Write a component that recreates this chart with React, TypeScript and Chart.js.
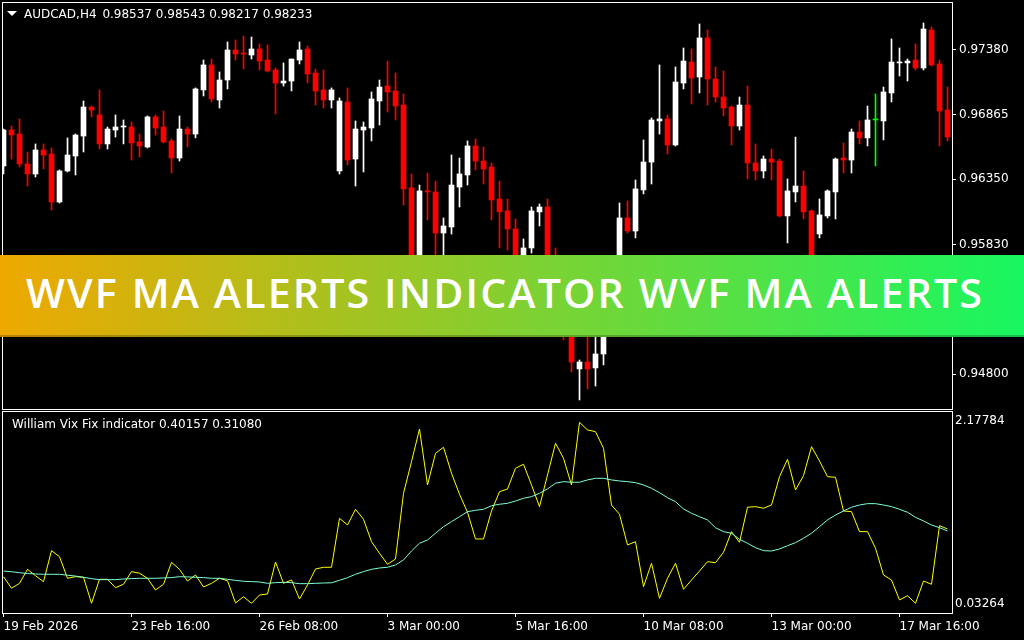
import React, { useEffect, useRef, useMemo } from 'react';
import { Chart, registerables } from 'chart.js';
Chart.register(...registerables);

// ---------- DATA (AUDCAD H4) ----------
const opens = [
  0.96457, 0.96743, 0.96711, 0.96473, 0.96393, 0.96584, 0.96552, 0.96170, 0.96417, 0.96536,
  0.96695, 0.96926, 0.96863, 0.96632, 0.96743, 0.96767, 0.96767, 0.96648, 0.96608, 0.96847,
  0.96767, 0.96656, 0.96520, 0.96751, 0.96711, 0.97062, 0.97261, 0.96982, 0.97141, 0.97380,
  0.97356, 0.97340, 0.97388, 0.97300, 0.97221, 0.97117, 0.97133, 0.97300, 0.97388, 0.97197,
  0.97062, 0.96982, 0.96417, 0.96966, 0.96512, 0.96743, 0.96759, 0.96974, 0.97093, 0.97054,
  0.96942, 0.96282, 0.95589, 0.96258, 0.96250, 0.95923, 0.95971, 0.96289, 0.96385, 0.96616,
  0.96496, 0.96449, 0.96194, 0.96099, 0.95955, 0.95581, 0.95804, 0.96091, 0.96130, 0.95692,
  0.95390, 0.95151, 0.94841, 0.94896, 0.94849, 0.94960, 0.95390, 0.95669, 0.96043, 0.95939,
  0.96266, 0.96488, 0.96815, 0.96831, 0.96624, 0.97117, 0.97284, 0.97165, 0.97476, 0.97149,
  0.97006, 0.96926, 0.96775, 0.96942, 0.96481, 0.96417, 0.96512, 0.96496, 0.96059, 0.96250,
  0.96297, 0.96099, 0.95915, 0.96059, 0.96250, 0.96520, 0.96504, 0.96727, 0.96680, 0.96823,
  0.96815, 0.97038, 0.97277, 0.97277, 0.97300, 0.97237, 0.97539, 0.97269, 0.96902,
];
const highs = [
  0.96751, 0.96775, 0.96831, 0.96568, 0.96632, 0.96632, 0.96600, 0.96425, 0.96680, 0.96711,
  0.96974, 0.96934, 0.97062, 0.96767, 0.96863, 0.96823, 0.96807, 0.96711, 0.96855, 0.96863,
  0.96894, 0.96672, 0.96855, 0.96767, 0.97078, 0.97300, 0.97308, 0.97205, 0.97444, 0.97460,
  0.97491, 0.97483, 0.97428, 0.97420, 0.97237, 0.97277, 0.97308, 0.97444, 0.97412, 0.97229,
  0.97221, 0.97078, 0.96998, 0.97078, 0.96815, 0.96807, 0.97046, 0.97141, 0.97292, 0.97197,
  0.97030, 0.96393, 0.96305, 0.96401, 0.96337, 0.96043, 0.96544, 0.96520, 0.96656, 0.96672,
  0.96608, 0.96481, 0.96337, 0.96194, 0.96035, 0.95876, 0.96130, 0.96154, 0.96194, 0.95804,
  0.95470, 0.95191, 0.94912, 0.95111, 0.95111, 0.95430, 0.95724, 0.96162, 0.96178, 0.96345,
  0.96664, 0.96839, 0.97261, 0.96863, 0.97245, 0.97396, 0.97388, 0.97587, 0.97539, 0.97245,
  0.97213, 0.96934, 0.97006, 0.97093, 0.96632, 0.96536, 0.96592, 0.96512, 0.96353, 0.96687,
  0.96417, 0.96106, 0.96194, 0.96266, 0.96520, 0.96640, 0.96751, 0.96815, 0.96934, 0.97030,
  0.97085, 0.97468, 0.97396, 0.97308, 0.97428, 0.97595, 0.97563, 0.97300, 0.97085,
];
const lows = [
  0.96393, 0.96512, 0.96449, 0.96297, 0.96369, 0.96433, 0.96106, 0.96162, 0.96409, 0.96385,
  0.96568, 0.96847, 0.96592, 0.96592, 0.96687, 0.96632, 0.96504, 0.96528, 0.96600, 0.96703,
  0.96640, 0.96401, 0.96496, 0.96608, 0.96680, 0.97014, 0.96966, 0.96918, 0.97070, 0.97300,
  0.97229, 0.97308, 0.97221, 0.97205, 0.96871, 0.97093, 0.97054, 0.97269, 0.97117, 0.96942,
  0.96918, 0.96918, 0.96393, 0.96465, 0.96297, 0.96409, 0.96656, 0.96783, 0.96886, 0.96823,
  0.96146, 0.95470, 0.95509, 0.96027, 0.95692, 0.95692, 0.95915, 0.96130, 0.96305, 0.96425,
  0.96313, 0.96027, 0.95804, 0.95788, 0.95509, 0.95509, 0.95764, 0.95979, 0.95645, 0.95310,
  0.95072, 0.94817, 0.94594, 0.94682, 0.94705, 0.94873, 0.95350, 0.95629, 0.95923, 0.95884,
  0.96234, 0.96313, 0.96711, 0.96552, 0.96616, 0.97070, 0.96950, 0.97038, 0.96942, 0.96966,
  0.96855, 0.96624, 0.96743, 0.96353, 0.96345, 0.96361, 0.96345, 0.96051, 0.95844, 0.96170,
  0.96035, 0.95613, 0.95884, 0.96043, 0.96035, 0.96401, 0.96401, 0.96632, 0.96616, 0.96457,
  0.96664, 0.96966, 0.97173, 0.97133, 0.97221, 0.97221, 0.97253, 0.96616, 0.96656,
];
const closes = [
  0.96743, 0.96703, 0.96473, 0.96393, 0.96584, 0.96544, 0.96170, 0.96417, 0.96544, 0.96703,
  0.96926, 0.96902, 0.96632, 0.96751, 0.96767, 0.96775, 0.96640, 0.96616, 0.96847, 0.96759,
  0.96648, 0.96520, 0.96751, 0.96711, 0.97070, 0.97261, 0.96990, 0.97141, 0.97380, 0.97348,
  0.97348, 0.97388, 0.97292, 0.97213, 0.97117, 0.97133, 0.97308, 0.97380, 0.97189, 0.97054,
  0.96982, 0.97062, 0.96974, 0.96504, 0.96751, 0.96767, 0.96990, 0.97085, 0.97046, 0.96934,
  0.96274, 0.95589, 0.96258, 0.96250, 0.95923, 0.95979, 0.96305, 0.96393, 0.96616, 0.96496,
  0.96433, 0.96186, 0.96091, 0.95955, 0.95565, 0.95804, 0.96099, 0.96130, 0.95692, 0.95390,
  0.95151, 0.94896, 0.94896, 0.94841, 0.94960, 0.95390, 0.95669, 0.96043, 0.95939, 0.96274,
  0.96488, 0.96823, 0.96831, 0.96624, 0.97125, 0.97292, 0.97157, 0.97476, 0.97149, 0.97006,
  0.96918, 0.96775, 0.96942, 0.96481, 0.96417, 0.96512, 0.96488, 0.96059, 0.96258, 0.96297,
  0.96091, 0.95669, 0.96067, 0.96258, 0.96512, 0.96504, 0.96727, 0.96680, 0.96823, 0.96823,
  0.97046, 0.97284, 0.97284, 0.97292, 0.97237, 0.97547, 0.97261, 0.96894, 0.96687,
];
// William Vix Fix and its moving average
const wvf = [
  0.353, 0.217, 0.275, 0.439, 0.364, 0.294, 0.658, 0.587, 0.334, 0.353,
  0.346, 0.041, 0.322, 0.322, 0.224, 0.264, 0.412, 0.393, 0.334, 0.197,
  0.264, 0.521, 0.439, 0.302, 0.373, 0.232, 0.275, 0.334, 0.306, 0.045,
  0.118, 0.041, 0.138, 0.150, 0.525, 0.275, 0.314, 0.091, 0.256, 0.443,
  0.463, 0.463, 1.037, 0.959, 1.143, 1.026, 0.763, 0.627, 0.498, 0.560,
  1.330, 1.701, 2.084, 1.428, 1.799, 1.870, 1.565, 1.319, 1.108, 0.795,
  0.795, 1.123, 1.349, 1.381, 1.624, 1.671, 1.428, 1.174, 1.545, 1.917,
  1.741, 1.428, 2.163, 2.073, 2.053, 1.858, 1.193, 1.084, 0.725, 0.763,
  0.236, 0.510, 0.100, 0.334, 0.510, 0.205, 0.314, 0.419, 0.529, 0.517,
  0.639, 0.881, 0.756, 1.167, 1.174, 1.155, 1.193, 1.525, 1.729, 1.369,
  1.537, 1.877, 1.709, 1.525, 1.518, 1.123, 1.115, 0.881, 0.881, 0.686,
  0.373, 0.314, 0.080, 0.130, 0.041, 0.302, 0.264, 0.951, 0.912,
];
const wvfMa = [
  0.419, 0.411, 0.400, 0.390, 0.385, 0.381, 0.381, 0.381, 0.370, 0.360,
  0.346, 0.330, 0.318, 0.318, 0.318, 0.326, 0.330, 0.334, 0.334, 0.334,
  0.338, 0.342, 0.353, 0.350, 0.346, 0.342, 0.334, 0.334, 0.322, 0.310,
  0.299, 0.295, 0.291, 0.275, 0.283, 0.287, 0.283, 0.271, 0.271, 0.275,
  0.279, 0.281, 0.311, 0.341, 0.381, 0.412, 0.439, 0.455, 0.463, 0.490,
  0.549, 0.654, 0.745, 0.783, 0.862, 0.939, 0.998, 1.056, 1.115, 1.131,
  1.143, 1.185, 1.202, 1.213, 1.240, 1.272, 1.291, 1.330, 1.381, 1.448,
  1.467, 1.460, 1.460, 1.487, 1.506, 1.506, 1.487, 1.475, 1.467, 1.455,
  1.428, 1.389, 1.338, 1.279, 1.232, 1.147, 1.096, 1.056, 1.018, 0.927,
  0.881, 0.862, 0.791, 0.745, 0.693, 0.658, 0.654, 0.678, 0.716, 0.752,
  0.803, 0.862, 0.939, 1.018, 1.076, 1.123, 1.167, 1.193, 1.209, 1.209,
  1.193, 1.174, 1.143, 1.108, 1.049, 1.006, 0.959, 0.927, 0.889,
];
const timeTickIndex = [0, 16, 32, 48, 64, 80, 96, 112];
const timeLabels = ['19 Feb 2026', '23 Feb 16:00', '26 Feb 08:00', '3 Mar 00:00', '5 Mar 16:00', '10 Mar 08:00', '13 Mar 00:00', '17 Mar 16:00'];
const priceTicks = [0.948, 0.95315, 0.9583, 0.9635, 0.96865, 0.9738];
const indicatorTicks = [0.03264, 2.17784];
const headerText = '0.98537 0.98543 0.98217 0.98233';
const symbolText = 'AUDCAD,H4';
const indicatorTitle = 'William Vix Fix indicator 0.40157 0.31080';
const bannerText = 'WVF MA ALERTS INDICATOR WVF MA ALERTS';

// ---------- view settings ----------
const X_MIN = -0.1875;
const X_MAX = 118.5625;
const P_MIN = 0.94522;
const P_MAX = 0.97762;
const I_MIN = -0.07286;
const I_MAX = 2.29506;
const FONT = 'DejaVu Sans';

const framePlugin = {
  id: 'frame',
  afterDraw(chart: any) {
    const { ctx, chartArea: a } = chart;
    ctx.save();
    ctx.strokeStyle = '#ffffff';
    ctx.lineWidth = 1;
    ctx.strokeRect(Math.round(a.left) + 0.5, Math.round(a.top) + 0.5, Math.round(a.right - a.left), Math.round(a.bottom - a.top));
    ctx.restore();
  },
};

const noPad = (s: any) => {
  s.paddingTop = 0;
  s.paddingBottom = 0;
  s.paddingLeft = 0;
  s.paddingRight = 0;
};

export default function App() {
  const mainRef = useRef<HTMLCanvasElement>(null);
  const indRef = useRef<HTMLCanvasElement>(null);

  const bannerScale = useMemo(() => {
    const c = document.createElement('canvas').getContext('2d')!;
    c.font = '600 39px "Open Sans"';
    const w = c.measureText(bannerText).width + 2 * (bannerText.length - 1);
    return 956 / w;
  }, []);

  useEffect(() => {
    Chart.defaults.font.family = FONT;
    const idx = opens.map((_, i) => i);
    const colors = idx.map((i) => (closes[i] > opens[i] ? '#ffffff' : closes[i] < opens[i] ? '#ff0000' : '#00ff00'));

    const main = new Chart(mainRef.current!, {
      type: 'bar',
      data: {
        datasets: [
          {
            data: idx.map((i) => ({ x: i, y: [opens[i], closes[i]] })) as any,
            backgroundColor: colors,
            barThickness: 5,
            grouped: false,
            minBarLength: 1,
            borderWidth: 0,
            order: 0,
          } as any,
          {
            data: idx.map((i) => ({ x: i, y: [lows[i], highs[i]] })) as any,
            backgroundColor: colors,
            barThickness: 1,
            grouped: false,
            borderWidth: 0,
            order: 1,
          } as any,
        ],
      },
      options: {
        responsive: false,
        animation: false,
        devicePixelRatio: 1,
        layout: { padding: { left: 2, top: 2, bottom: 1, right: 0 } },
        plugins: { legend: { display: false }, tooltip: { enabled: false } },
        scales: {
          x: { type: 'linear', display: false, min: X_MIN, max: X_MAX, offset: false, bounds: 'data' } as any,
          y: {
            position: 'right',
            min: P_MIN,
            max: P_MAX,
            bounds: 'data',
            afterFit: (s: any) => { s.width = 72; noPad(s); },
            afterBuildTicks: (s: any) => { s.ticks = priceTicks.map((v) => ({ value: v })); },
            ticks: { color: '#ffffff', font: { family: FONT, size: 12 }, padding: 3, callback: (v: any) => Number(v).toFixed(5) },
            grid: { drawOnChartArea: false, drawTicks: true, tickLength: 4, color: '#ffffff' },
            border: { display: false },
          } as any,
        },
      },
      plugins: [framePlugin],
    });

    const ind = new Chart(indRef.current!, {
      type: 'line',
      data: {
        datasets: [
          { data: idx.map((i) => ({ x: i, y: wvf[i] })), borderColor: '#ffff00', borderWidth: 1, pointRadius: 0, tension: 0, order: 1 },
          { data: idx.map((i) => ({ x: i, y: wvfMa[i] })), borderColor: '#7fffd4', borderWidth: 1, pointRadius: 0, tension: 0, order: 0 },
        ],
      },
      options: {
        responsive: false,
        animation: false,
        devicePixelRatio: 1,
        layout: { padding: { left: 2, top: 1, bottom: 0, right: 0 } },
        plugins: { legend: { display: false }, tooltip: { enabled: false } },
        scales: {
          x: {
            type: 'linear',
            min: X_MIN,
            max: X_MAX,
            bounds: 'data',
            afterFit: (s: any) => { s.height = 27; noPad(s); },
            afterBuildTicks: (s: any) => { s.ticks = timeTickIndex.map((v) => ({ value: v })); },
            ticks: {
              align: 'start',
              autoSkip: false,
              maxRotation: 0,
              color: '#ffffff',
              font: { family: FONT, size: 12 },
              padding: 3,
              callback: (v: any) => timeLabels[timeTickIndex.indexOf(Number(v))],
            },
            grid: { drawOnChartArea: false, drawTicks: true, tickLength: 4, color: '#ffffff' },
            border: { display: false },
          } as any,
          y: {
            position: 'right',
            min: I_MIN,
            max: I_MAX,
            bounds: 'data',
            afterFit: (s: any) => { s.width = 72; noPad(s); },
            afterBuildTicks: (s: any) => { s.ticks = indicatorTicks.map((v) => ({ value: v })); },
            ticks: { color: '#ffffff', font: { family: FONT, size: 12 }, padding: 3, callback: (v: any) => Number(v).toFixed(5) },
            grid: { drawOnChartArea: false, drawTicks: false, color: '#ffffff' },
            border: { display: false },
          } as any,
        },
      },
      plugins: [framePlugin],
    });

    return () => {
      main.destroy();
      ind.destroy();
    };
  }, []);

  const txt: React.CSSProperties = {
    position: 'absolute',
    color: '#ffffff',
    fontFamily: FONT,
    fontSize: 12,
    lineHeight: '14px',
    whiteSpace: 'pre',
  };

  return (
    <div style={{ position: 'fixed', left: 0, top: 0, width: 1024, height: 640, background: '#000000', overflow: 'hidden' }}>
      <canvas ref={mainRef} width={1024} height={410} style={{ position: 'absolute', left: 0, top: 0, display: 'block' }} />
      <canvas ref={indRef} width={1024} height={230} style={{ position: 'absolute', left: 0, top: 410, display: 'block' }} />
      <div
        style={{
          position: 'absolute', left: 7, top: 11, width: 0, height: 0,
          borderLeft: '5px solid transparent', borderRight: '5px solid transparent', borderTop: '5px solid #ffffff',
        }}
      />
      <div style={{ ...txt, left: 24, top: 7 }}>
        <span style={{ marginRight: 2 }}>{symbolText}</span> {headerText}
      </div>
      <div style={{ ...txt, left: 12, top: 417 }}>{indicatorTitle}</div>
      <div
        style={{
          position: 'absolute', left: 0, top: 255, width: 1024, height: 82,
          background: 'linear-gradient(90deg, #eea800 0%, #18f760 100%)',
          boxShadow: 'inset 0 -2px 0 rgba(0,0,0,0.22)',
        }}
      />
      <div
        style={{
          position: 'absolute', left: 26, top: 273, height: 39, lineHeight: '39px',
          fontFamily: '"Open Sans"', fontWeight: 600, fontSize: 39, letterSpacing: 2,
          color: '#ffffff', whiteSpace: 'pre', transform: `scaleX(${bannerScale})`, transformOrigin: 'left center',
        }}
      >
        {bannerText}
      </div>
    </div>
  );
}
